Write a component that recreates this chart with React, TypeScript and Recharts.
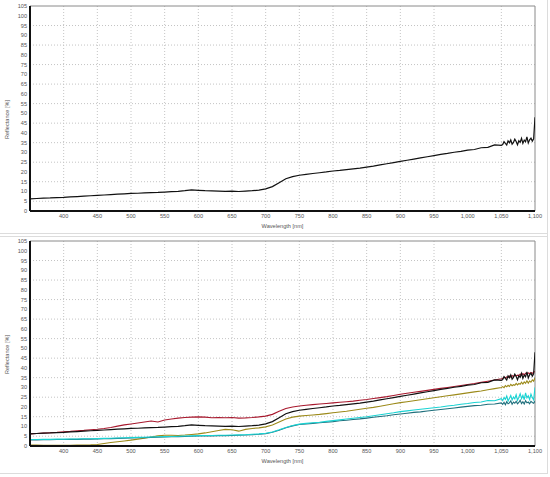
import { LineChart, Line, XAxis, YAxis, CartesianGrid, ReferenceLine } from 'recharts';

// wavelength [nm]: 10 nm steps up to 1050, then 2 nm steps in the noisy tail
const wavelengths = [
  350, 360, 370, 380, 390, 400, 410, 420, 430, 440, 450, 460, 470, 480, 490, 500, 510, 520, 530, 540,
  550, 560, 570, 580, 590, 600, 610, 620, 630, 640, 650, 660, 670, 680, 690, 700, 710, 720, 730, 740,
  750, 760, 770, 780, 790, 800, 810, 820, 830, 840, 850, 860, 870, 880, 890, 900, 910, 920, 930, 940,
  950, 960, 970, 980, 990, 1000, 1010, 1020, 1030, 1040, 1050,
  1052, 1054, 1056, 1058, 1060, 1062, 1064, 1066, 1068, 1070, 1072, 1074, 1076, 1078, 1080, 1082, 1084,
  1086, 1088, 1090, 1092, 1094, 1096, 1098, 1100,
];

const black = [
  6.2, 6.4, 6.6, 6.7, 6.9, 7.0, 7.2, 7.4, 7.6, 7.8, 8.0, 8.2, 8.4, 8.6, 8.8, 9.0, 9.1, 9.3, 9.4, 9.5,
  9.7, 9.9, 10.1, 10.4, 10.8, 10.6, 10.4, 10.3, 10.2, 10.1, 10.2, 10.0, 10.2, 10.4, 10.7, 11.3, 12.5, 14.5, 16.5, 17.6,
  18.3, 18.8, 19.2, 19.6, 20.0, 20.5, 20.8, 21.2, 21.6, 22.0, 22.5, 23.0, 23.6, 24.2, 24.8, 25.4, 26.0, 26.6, 27.2, 27.8,
  28.4, 29.0, 29.5, 30.1, 30.5, 31.2, 31.5, 32.4, 32.6, 33.9, 33.6,
  34.0, 35.5, 34.6, 33.8, 35.9, 34.9, 36.4, 34.2, 35.1, 36.8, 35.6, 33.9, 36.0,
  35.2, 37.2, 34.6, 36.3, 35.5, 38.0, 34.8, 36.5, 37.3, 35.8, 37.0, 48.0,
];

const red = [
  6.2, 6.4, 6.6, 6.8, 7.0, 7.3, 7.5, 7.8, 8.0, 8.3, 8.6, 9.0, 9.5, 10.2, 10.8, 11.3, 11.8, 12.3, 12.8, 12.3,
  13.3, 13.8, 14.3, 14.6, 14.8, 14.9, 14.8, 14.5, 14.6, 14.5, 14.6, 14.3, 14.4, 14.6, 14.9, 15.3, 16.2, 17.8, 19.2, 20.0,
  20.5, 20.9, 21.2, 21.5, 21.8, 22.1, 22.4, 22.7, 23.0, 23.4, 23.8, 24.3, 24.8, 25.3, 25.9, 26.5, 27.0, 27.5, 28.0, 28.5,
  29.0, 29.5, 30.0, 30.5, 31.0, 31.5, 32.0, 32.6, 33.2, 33.8, 34.4,
  34.6, 35.3, 34.9, 35.4, 35.1, 35.9, 35.3, 36.1, 35.5, 36.4, 35.9, 36.3, 36.1,
  36.9, 36.2, 37.1, 36.4, 37.3, 36.9, 37.4, 37.1, 37.7, 37.1, 37.9, 38.0,
];

const olive = [
  0.5, 0.5, 0.4, 0.4, 0.4, 0.4, 0.4, 0.5, 0.5, 0.6, 0.8, 1.3, 1.8, 2.2, 2.6, 3.0, 3.5, 4.0, 4.6, 5.2,
  5.5, 5.5, 5.4, 5.6, 5.9, 6.2, 6.7, 7.3, 7.9, 8.5, 8.3, 7.6, 8.5, 9.0, 9.3, 9.8, 10.8, 12.3, 13.8, 14.8,
  15.3, 15.6, 15.9, 16.2, 16.6, 17.0, 17.4, 17.8, 18.3, 18.8, 19.3, 19.8, 20.4, 21.0, 21.6, 22.2, 22.7, 23.2, 23.7, 24.2,
  24.7, 25.2, 25.7, 26.2, 26.7, 27.2, 27.7, 28.2, 28.8, 29.4, 30.0,
  30.4, 29.9, 30.9, 30.3, 31.1, 30.5, 31.6, 30.9, 31.4, 31.1, 32.1, 31.3, 32.0,
  31.6, 32.7, 31.7, 32.8, 32.1, 33.4, 32.2, 33.3, 32.7, 33.9, 33.2, 35.0,
];

const cyan = [
  3.3, 3.3, 3.4, 3.4, 3.5, 3.5, 3.6, 3.6, 3.7, 3.7, 3.8, 3.9, 4.0, 4.1, 4.2, 4.3, 4.4, 4.5, 4.6, 4.7,
  4.8, 4.9, 5.0, 5.1, 5.2, 5.3, 5.4, 5.4, 5.5, 5.5, 5.6, 5.7, 5.8, 6.0, 6.2, 6.5, 7.2, 8.3, 9.5, 10.5,
  11.2, 11.6, 11.9, 12.2, 12.6, 13.0, 13.4, 13.8, 14.2, 14.6, 15.0, 15.5, 16.0, 16.5, 17.0, 17.6, 18.0, 18.4, 18.8, 19.2,
  19.6, 20.0, 20.5, 20.9, 21.4, 21.8, 22.3, 22.5, 23.3, 23.2, 24.2,
  23.2, 24.8, 23.9, 25.6, 23.0, 24.4, 25.9, 23.6, 25.1, 24.2, 26.3, 23.4, 25.0,
  26.8, 24.3, 25.9, 23.7, 27.2, 24.6, 25.7, 23.8, 26.6, 24.8, 23.6, 30.0,
];

const teal = [
  3.1, 3.1, 3.2, 3.2, 3.3, 3.3, 3.4, 3.4, 3.5, 3.5, 3.6, 3.7, 3.8, 3.9, 4.0, 4.1, 4.2, 4.3, 4.4, 4.5,
  4.6, 4.7, 4.8, 4.9, 5.0, 5.1, 5.2, 5.2, 5.3, 5.3, 5.4, 5.5, 5.6, 5.8, 6.0, 6.3, 7.0, 8.1, 9.3, 10.3,
  11.0, 11.3, 11.6, 11.9, 12.2, 12.5, 12.9, 13.2, 13.6, 13.9, 14.3, 14.7, 15.1, 15.5, 16.0, 16.4, 16.8, 17.2, 17.5, 17.9,
  18.3, 18.7, 19.1, 19.5, 19.9, 20.3, 20.7, 20.9, 21.4, 21.5, 22.1,
  21.3, 22.4, 21.1, 22.7, 21.6, 22.1, 23.1, 21.4, 22.5, 21.9, 22.9, 21.6, 22.3,
  23.4, 21.7, 22.7, 21.5, 23.2, 22.1, 22.5, 21.6, 22.9, 22.3, 21.9, 23.0,
];

const yTicks = [0, 5, 10, 15, 20, 25, 30, 35, 40, 45, 50, 55, 60, 65, 70, 75, 80, 85, 90, 95, 100, 105];
const xTicks = [400, 450, 500, 550, 600, 650, 700, 750, 800, 850, 900, 950, 1000, 1050, 1100];
const hGrid = [5, 15, 25, 35, 45, 55, 65, 75, 85, 95];
const vGrid = [400, 450, 500, 550, 600, 650, 700, 750, 800, 850, 900, 950, 1000, 1050];

const rows = wavelengths.map((w, i) => ({
  w,
  black: black[i],
  red: red[i],
  olive: olive[i],
  cyan: cyan[i],
  teal: teal[i],
}));

const font = 'Liberation Sans, Arial, sans-serif';
const tickStyle = { fill: '#555', fontSize: 5.6, fontFamily: font };

// y title sits a bit below the middle of the axis in the original
function YTitle(props: any) {
  const vb = props.viewBox || {};
  const x = (vb.x ?? 0) + 9;
  const y = (vb.y ?? 0) + (vb.height ?? 0) / 2 + 11;
  return (
    <text x={x} y={y} transform={`rotate(-90, ${x}, ${y})`} textAnchor="middle" fill="#555" fontSize={5.6} fontFamily={font}>
      Reflectance [%]
    </text>
  );
}

function Panel({ series }: { series: { key: string; color: string; width?: number }[] }) {
  return (
    <LineChart width={550} height={236} data={rows} margin={{ top: 6, right: 15, bottom: 0, left: 0 }}>
      <CartesianGrid
        horizontalValues={hGrid}
        verticalValues={vGrid}
        stroke="#c4c4c4"
        strokeDasharray="1 2"
      />
      <XAxis
        dataKey="w"
        type="number"
        domain={[350, 1100]}
        ticks={xTicks}
        allowDataOverflow
        tickFormatter={(v: number) => v.toLocaleString('en-US')}
        tick={tickStyle}
        tickLine={false}
        tickSize={2}
        tickMargin={1}
        height={25}
        axisLine={{ stroke: '#111', strokeWidth: 2 }}
        label={{ value: 'Wavelength [nm]', position: 'insideBottom', offset: 8, style: tickStyle }}
      />
      <YAxis
        type="number"
        domain={[0, 105]}
        ticks={yTicks}
        interval={0}
        allowDataOverflow
        tick={tickStyle}
        tickLine={false}
        tickSize={2}
        tickMargin={1}
        width={30}
        axisLine={{ stroke: '#111', strokeWidth: 2 }}
        label={{ content: YTitle }}
      />
      <ReferenceLine y={105} stroke="#8a8a8a" strokeWidth={1} />
      <ReferenceLine x={1100} stroke="#8a8a8a" strokeWidth={1} />
      {series.map((s) => (
        <Line
          key={s.key}
          type="linear"
          dataKey={s.key}
          stroke={s.color}
          strokeWidth={s.width ?? 1.1}
          dot={false}
          isAnimationActive={false}
        />
      ))}
    </LineChart>
  );
}

export default function App() {
  return (
    <div style={{ position: 'absolute', left: 0, top: 0, width: 550, height: 477, background: '#fff' }}>
      <div style={{ position: 'absolute', left: 0, top: 0, width: 548, height: 237, border: '1px solid #dcdcdc', borderLeft: 'none', borderTop: 'none', boxSizing: 'border-box' }} />
      <div style={{ position: 'absolute', left: 0, top: 233, width: 548, height: 241, border: '1px solid #dcdcdc', borderLeft: 'none', boxSizing: 'border-box' }} />
      <div style={{ position: 'absolute', left: 0, top: 0 }}>
        <Panel series={[{ key: 'black', color: '#111', width: 1.2 }]} />
      </div>
      <div style={{ position: 'absolute', left: 0, top: 235 }}>
        <Panel
          series={[
            { key: 'red', color: '#a8192e' },
            { key: 'black', color: '#111', width: 1.2 },
            { key: 'olive', color: '#9c8a1a' },
            { key: 'teal', color: '#1f6f7c' },
            { key: 'cyan', color: '#19d3d3' },
          ]}
        />
      </div>
    </div>
  );
}
